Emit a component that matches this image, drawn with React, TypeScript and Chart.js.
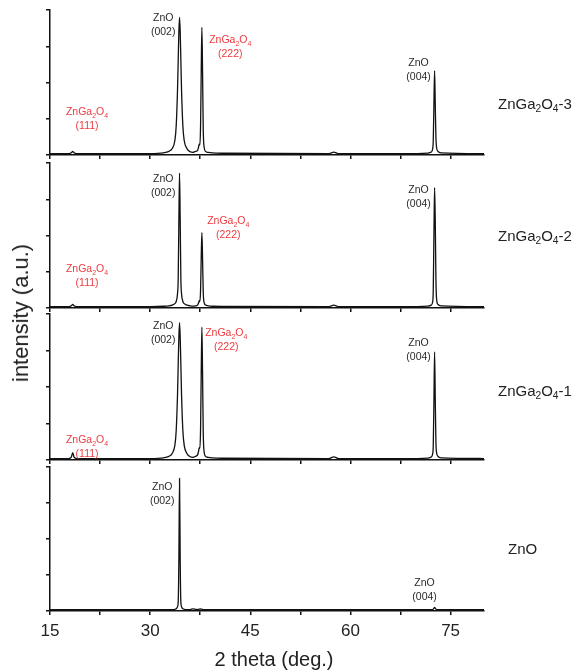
import React, { useEffect, useRef } from 'react';
import { Chart, registerables } from 'chart.js';

Chart.register(...registerables);

const FONT = '"Liberation Sans", Arial, Helvetica, sans-serif';

// ---------- data ----------
const twoTheta = [
  15, 17.8, 18.2, 18.4, 18.6, 19.0, 30,
  32.0, 32.8, 33.3, 33.7, 33.9, 34.1, 34.2, 34.3, 34.4, 34.5, 34.6, 34.7, 34.9, 35.1, 35.5, 36.0, 36.4,
  36.8, 37.1, 37.25, 37.35, 37.45, 37.55, 37.65, 37.75, 37.85, 37.95, 38.1, 38.3, 38.7, 39.3, 41,
  56.8, 57.5, 58.2,
  70, 71.6, 72.1, 72.3, 72.4, 72.5, 72.6, 72.7, 72.8, 72.9, 73.1, 73.6, 80,
];

const zga3Intensity = [
  1, 1, 1.5, 2.5, 1.5, 1, 1,
  1.5, 2.5, 4.5, 10, 20, 45, 65, 85, 95, 85, 65, 45, 20, 10, 4.5, 2.2, 1.8,
  2.5, 3, 5.5, 7.5, 7, 20, 58, 88, 57, 18, 5, 2.5, 1.8, 1.4, 1.2,
  1, 2, 1,
  1, 1.3, 2, 4, 10, 35, 58, 35, 12, 5, 2.5, 1.5, 1,
];

const zga2Intensity = [
  1, 1, 1.5, 2.5, 1.5, 1, 1,
  1.2, 1.5, 2, 3, 4.5, 10, 20, 60, 93, 60, 20, 10, 4.5, 3, 2, 1.5, 1.3,
  1.5, 2, 3.5, 5, 4.5, 12, 35, 52, 34, 11, 3.5, 2, 1.5, 1.2, 1.1,
  1, 2, 1,
  1, 1.3, 2, 4, 12, 50, 83, 60, 20, 6, 2.5, 1.5, 1,
];

const zga1Intensity = [
  1, 1, 2, 5, 2, 1, 1,
  1.5, 2.5, 4.5, 10, 20, 45, 65, 84, 94, 84, 65, 45, 20, 10, 4.5, 2.2, 1.8,
  2.5, 3.5, 6, 8.5, 8, 21, 60, 91, 59, 19, 5, 2.5, 1.8, 1.4, 1.2,
  1, 2.2, 1,
  1, 1.3, 2, 4, 10, 40, 74, 42, 12, 5, 2.5, 1.5, 1,
];

const znoIntensity = [
  1, 1, 1, 1, 1, 1, 1,
  1, 1, 1, 1.2, 1.5, 3, 6, 35, 92, 35, 6, 3, 1.5, 1.2, 1, 1, 1.5,
  1.2, 1, 1.2, 1.3, 1.2, 1.5, 1.3, 1.2, 1.1, 1, 1, 1, 1, 1, 1,
  1, 1, 1,
  1, 1, 1, 1, 1.3, 2, 2.5, 2, 1.3, 1, 1, 1, 1,
];

const sampleNames = ['ZnGa2O4-3', 'ZnGa2O4-2', 'ZnGa2O4-1', 'ZnO'];

const hklLabels3 = [
  { phase: 'ZnO', hkl: '(002)', x: 31.95, y: 94.5 },
  { phase: 'ZnGa2O4', hkl: '(222)', x: 42.0, y: 79.3 },
  { phase: 'ZnGa2O4', hkl: '(111)', x: 20.55, y: 29.7 },
  { phase: 'ZnO', hkl: '(004)', x: 70.2, y: 63.4 },
];
const hklLabels2 = [
  { phase: 'ZnO', hkl: '(002)', x: 31.95, y: 89 },
  { phase: 'ZnGa2O4', hkl: '(222)', x: 41.7, y: 60 },
  { phase: 'ZnGa2O4', hkl: '(111)', x: 20.55, y: 26.9 },
  { phase: 'ZnO', hkl: '(004)', x: 70.2, y: 81.4 },
];
const hklLabels1 = [
  { phase: 'ZnO', hkl: '(002)', x: 31.95, y: 91.8 },
  { phase: 'ZnGa2O4', hkl: '(222)', x: 41.4, y: 87 },
  { phase: 'ZnGa2O4', hkl: '(111)', x: 20.55, y: 13.7 },
  { phase: 'ZnO', hkl: '(004)', x: 70.2, y: 80 },
];
const hklLabelsZnO = [
  { phase: 'ZnO', hkl: '(002)', x: 31.8, y: 86 },
  { phase: 'ZnO', hkl: '(004)', x: 71.1, y: 19.4 },
];

const seriesList = [zga3Intensity, zga2Intensity, zga1Intensity, znoIntensity];
const labelList = [hklLabels3, hklLabels2, hklLabels1, hklLabelsZnO];

const xMin = 15;
const xMax = 80;
const xTickStep = 7.5;
const xLabelStep = 15;
const yMin = 0;
const yMax = 100;
const yTickStep = 25;

// ---------- layout ----------
const PANELS = [
  { top: 10, bottom: 155, nameX: 498, nameY: 103 },
  { top: 163, bottom: 308, nameX: 498, nameY: 235 },
  { top: 314, bottom: 460, nameX: 498, nameY: 390 },
  { top: 467, bottom: 611, nameX: 508, nameY: 548 },
];
const PAD_TOP = 10;
const PLOT_LEFT = 50;
const PLOT_RIGHT = 484;
const PAGE_W = 583;
const PAGE_H = 672;

const RED = '#ee3a3f';
const DARK = '#2a2a2a';

function splitFormula(s: string) {
  const runs: { t: string; sub: boolean }[] = [];
  for (let i = 0; i < s.length; i++) {
    const ch = s[i];
    const sub = /[0-9]/.test(ch) && i > 0 && /[A-Za-z]/.test(s[i - 1]);
    const last = runs[runs.length - 1];
    if (last && last.sub === sub) last.t += ch;
    else runs.push({ t: ch, sub });
  }
  return runs;
}

function drawFormula(ctx: CanvasRenderingContext2D, text: string, cx: number, cy: number, size: number, color: string) {
  const runs = splitFormula(text);
  const mainFont = `${size}px ${FONT}`;
  const subFont = `${Math.round(size * 0.7)}px ${FONT}`;
  let total = 0;
  for (const r of runs) {
    ctx.font = r.sub ? subFont : mainFont;
    total += ctx.measureText(r.t).width;
  }
  let x = cx - total / 2;
  ctx.textAlign = 'left';
  ctx.textBaseline = 'middle';
  ctx.fillStyle = color;
  for (const r of runs) {
    ctx.font = r.sub ? subFont : mainFont;
    ctx.fillText(r.t, x, r.sub ? cy + size * 0.35 : cy);
    x += ctx.measureText(r.t).width;
  }
}

function Formula({ text }: { text: string }) {
  return (
    <>
      {splitFormula(text).map((r, i) =>
        r.sub ? (
          <sub key={i} style={{ fontSize: '0.68em', verticalAlign: '-0.3em', lineHeight: 0 }}>{r.t}</sub>
        ) : (
          <span key={i}>{r.t}</span>
        )
      )}
    </>
  );
}

export default function App() {
  const refs = useRef<(HTMLCanvasElement | null)[]>([]);

  useEffect(() => {
    const charts = PANELS.map((p, i) => {
      const canvas = refs.current[i] as HTMLCanvasElement;
      const isBottom = i === PANELS.length - 1;
      const labels = labelList[i];
      const xAxisH = isBottom ? PAGE_H - p.bottom : 6;
      const plugin = {
        id: 'hklLabels' + i,
        afterDatasetsDraw(chart: any) {
          const ctx: CanvasRenderingContext2D = chart.ctx;
          const xs = chart.scales.x;
          const ys = chart.scales.y;
          ctx.save();
          for (const l of labels) {
            const px = xs.getPixelForValue(l.x);
            const py = ys.getPixelForValue(l.y);
            const color = l.phase === 'ZnO' ? DARK : RED;
            drawFormula(ctx, l.phase, px, py, 10.5, color);
            drawFormula(ctx, l.hkl, px, py + 14, 10.5, color);
          }
          ctx.restore();
        },
      };
      return new Chart(canvas, {
        type: 'line',
        data: {
          datasets: [
            {
              data: twoTheta.map((x, k) => ({ x, y: seriesList[i][k] })),
              borderColor: '#111',
              borderWidth: 1.3,
              pointRadius: 0,
              fill: false,
              cubicInterpolationMode: 'monotone',
            },
          ],
        },
        options: {
          animation: false,
          responsive: false,
          events: [],
          layout: { padding: { left: 0, right: PAGE_W - PLOT_RIGHT, top: PAD_TOP, bottom: 0 } },
          plugins: { legend: { display: false }, tooltip: { enabled: false } },
          scales: {
            x: {
              type: 'linear',
              min: xMin,
              max: xMax,
              afterFit(s: any) {
                s.height = xAxisH;
              },
              border: { display: true, color: '#111', width: 1.5 },
              grid: { drawOnChartArea: false, drawTicks: true, tickLength: 4, color: '#111', lineWidth: 1.5 },
              ticks: {
                display: isBottom,
                stepSize: xTickStep,
                includeBounds: false,
                autoSkip: false,
                maxRotation: 0,
                minRotation: 0,
                padding: 6,
                color: '#222',
                font: { size: 17, family: FONT },
                callback: (v: any) => (Math.abs(Number(v) % xLabelStep) < 1e-6 ? String(v) : ''),
              },
            },
            y: {
              type: 'linear',
              min: yMin,
              max: yMax,
              afterFit(s: any) {
                s.width = PLOT_LEFT;
              },
              border: { display: true, color: '#111', width: 1.5 },
              grid: { drawOnChartArea: false, drawTicks: true, tickLength: 4, color: '#111', lineWidth: 1.5 },
              ticks: { display: false, stepSize: yTickStep },
            },
          },
        } as any,
        plugins: [plugin],
      });
    });
    return () => charts.forEach((c) => c.destroy());
  }, []);

  return (
    <div style={{ position: 'absolute', left: 0, top: 0, width: PAGE_W, height: PAGE_H, fontFamily: FONT, background: '#fff' }}>
      {PANELS.map((p, i) => {
        const isBottom = i === PANELS.length - 1;
        const top = p.top - PAD_TOP;
        const h = PAD_TOP + (p.bottom - p.top) + (isBottom ? PAGE_H - p.bottom : 6);
        return (
          <canvas
            key={i}
            ref={(el) => {
              refs.current[i] = el;
            }}
            width={PAGE_W}
            height={h}
            style={{ position: 'absolute', left: 0, top, width: PAGE_W, height: h, display: 'block' }}
          />
        );
      })}
      {PANELS.map((p, i) => (
        <div
          key={'n' + i}
          style={{
            position: 'absolute',
            left: p.nameX,
            top: p.nameY,
            transform: 'translateY(-50%)',
            fontSize: 15,
            lineHeight: 1,
            color: '#222',
            whiteSpace: 'nowrap',
          }}
        >
          <Formula text={sampleNames[i]} />
        </div>
      ))}
      <div
        style={{
          position: 'absolute',
          left: 21,
          top: 313,
          transform: 'translate(-50%, -50%) rotate(-90deg)',
          fontSize: 22,
          lineHeight: 1,
          color: '#222',
          whiteSpace: 'nowrap',
        }}
      >
        intensity (a.u.)
      </div>
      <div
        style={{
          position: 'absolute',
          left: (PLOT_LEFT + PLOT_RIGHT) / 2 + 7,
          top: 659,
          transform: 'translate(-50%, -50%)',
          fontSize: 20,
          lineHeight: 1,
          color: '#222',
          whiteSpace: 'nowrap',
        }}
      >
        2 theta (deg.)
      </div>
    </div>
  );
}
